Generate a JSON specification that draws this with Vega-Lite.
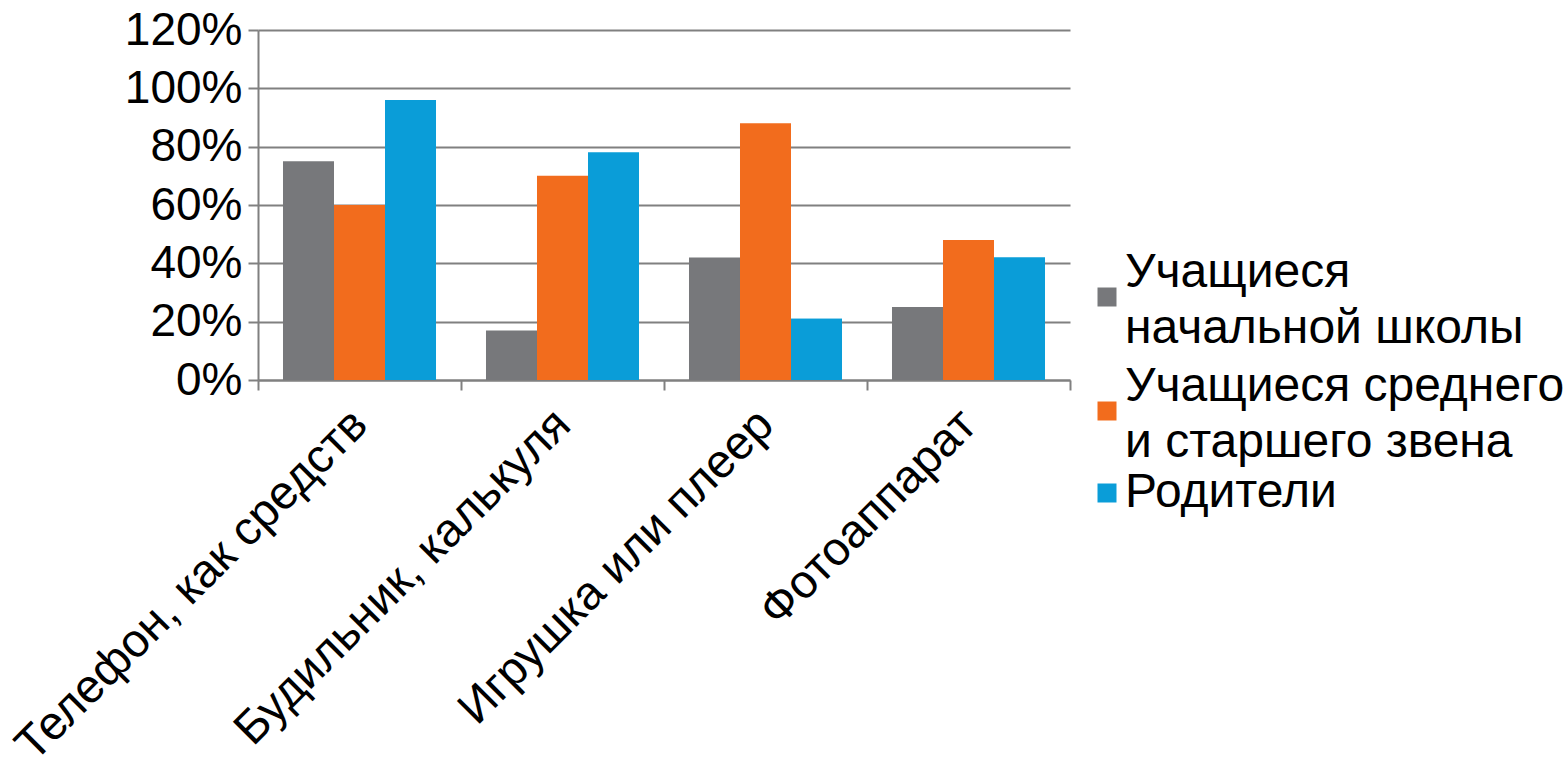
{
  "$schema": "https://vega.github.io/schema/vega-lite/v6.json",
  "width": 812,
  "height": 350,
  "autosize": {"type": "none"},
  "padding": {"left": 258, "top": 30, "right": 498, "bottom": 382},
  "background": "white",
  "config": {
    "view": {"stroke": null},
    "font": "Liberation Sans",
    "style": {"guide-label": {"lineHeight": 56}}
  },
  "data": {
    "values": [
      {"category": "Телефон, как средств", "group": "Учащиеся начальной школы", "value": 0.75},
      {"category": "Телефон, как средств", "group": "Учащиеся среднего и старшего звена", "value": 0.60},
      {"category": "Телефон, как средств", "group": "Родители", "value": 0.96},
      {"category": "Будильник, калькуля", "group": "Учащиеся начальной школы", "value": 0.17},
      {"category": "Будильник, калькуля", "group": "Учащиеся среднего и старшего звена", "value": 0.70},
      {"category": "Будильник, калькуля", "group": "Родители", "value": 0.78},
      {"category": "Игрушка или плеер", "group": "Учащиеся начальной школы", "value": 0.42},
      {"category": "Игрушка или плеер", "group": "Учащиеся среднего и старшего звена", "value": 0.88},
      {"category": "Игрушка или плеер", "group": "Родители", "value": 0.21},
      {"category": "Фотоаппарат", "group": "Учащиеся начальной школы", "value": 0.25},
      {"category": "Фотоаппарат", "group": "Учащиеся среднего и старшего звена", "value": 0.48},
      {"category": "Фотоаппарат", "group": "Родители", "value": 0.42}
    ]
  },
  "encoding": {
    "x": {
      "field": "category",
      "type": "nominal",
      "sort": ["Телефон, как средств", "Будильник, калькуля", "Игрушка или плеер", "Фотоаппарат"],
      "scale": {"paddingInner": 0, "paddingOuter": 0},
      "axis": {
        "title": null,
        "labelAngle": -45,
        "labelAlign": "right",
        "labelBaseline": "middle",
        "labelFontSize": 47,
        "labelColor": "#000000",
        "labelLimit": 0,
        "labelPadding": 27,
        "tickBand": "extent",
        "tickSize": 10,
        "tickColor": "#808080",
        "tickWidth": 2,
        "domainColor": "#808080",
        "domainWidth": 2,
        "grid": false
      }
    },
    "xOffset": {
      "field": "group",
      "type": "nominal",
      "sort": ["Учащиеся начальной школы", "Учащиеся среднего и старшего звена", "Родители"],
      "scale": {"domain": ["Учащиеся начальной школы", "Учащиеся среднего и старшего звена", "Родители"], "paddingInner": 0, "paddingOuter": 0.49}
    },
    "y": {
      "field": "value",
      "type": "quantitative",
      "scale": {"domain": [0, 1.2], "nice": false},
      "axis": {
        "title": null,
        "format": ".0%",
        "values": [0, 0.2, 0.4, 0.6, 0.8, 1, 1.2],
        "grid": true,
        "gridColor": "#808080",
        "gridWidth": 2,
        "domainColor": "#808080",
        "domainWidth": 2,
        "tickColor": "#808080",
        "tickWidth": 2,
        "tickSize": 10,
        "labelFontSize": 46,
        "labelColor": "#000000",
        "labelPadding": 6
      }
    }
  },
  "layer": [
    {
      "mark": {"type": "bar"},
      "encoding": {
        "color": {
          "field": "group",
          "type": "nominal",
          "scale": {
            "domain": ["Учащиеся начальной школы", "Учащиеся среднего и старшего звена", "Родители"],
            "range": ["#77787b", "#f26c1d", "#0a9dd8"]
          },
          "legend": {
            "title": null,
            "orient": "none",
            "legendX": 825,
            "legendY": 243,
            "values": ["Учащиеся начальной школы", "Учащиеся среднего и старшего звена"],
            "symbolType": "square",
            "symbolSize": 361,
            "symbolStrokeWidth": 0,
            "labelFontSize": 48,
            "labelColor": "#000000",
            "labelLimit": 0,
            "labelOffset": -6,
            "labelBaseline": "bottom",
            "rowPadding": 10,
            "labelExpr": "datum.label == 'Учащиеся начальной школы' ? ['Учащиеся', 'начальной школы'] : ['Учащиеся среднего', 'и старшего звена']"
          }
        }
      }
    },
    {
      "transform": [{"filter": "datum.group == 'Родители'"}],
      "mark": {"type": "bar"},
      "encoding": {
        "fill": {
          "field": "group",
          "type": "nominal",
          "scale": {"domain": ["Родители"], "range": ["#0a9dd8"]},
          "legend": {
            "title": null,
            "orient": "none",
            "legendX": 825,
            "legendY": 439,
            "symbolType": "square",
            "symbolSize": 361,
            "symbolStrokeWidth": 0,
            "labelFontSize": 48,
            "labelColor": "#000000",
            "labelLimit": 0,
            "labelOffset": -6
          }
        }
      }
    }
  ]
}
